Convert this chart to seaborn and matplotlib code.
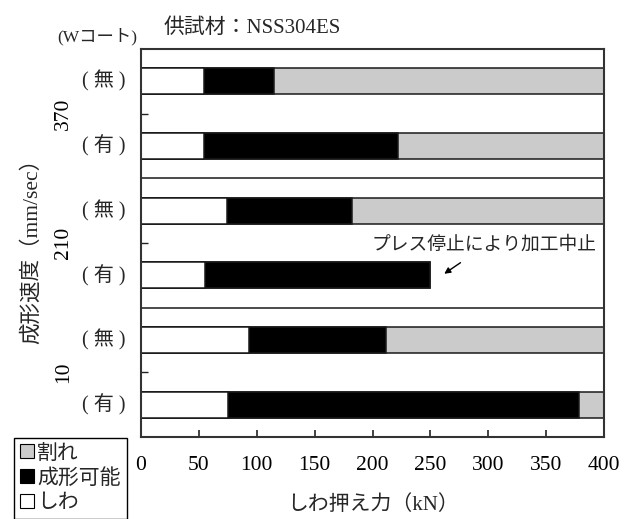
import matplotlib
matplotlib.use("Agg")
import matplotlib.pyplot as plt
from matplotlib.patches import Patch
import numpy as np
import pandas as pd
import seaborn as sns

# Forming speed groups (mm/sec) and W-coat condition
speeds = ["370", "210", "10"]
coats = ["無", "有"]

# Blank holding force ranges per bar (kN), in order 370無, 370有, 210無, 210有, 10無, 10有
wrinkle_len = [54, 54, 74, 55, 93, 75]        # しわ
formable_len = [61, 168, 108, 195, 119, 303]  # 成形可能
crack_len = [285, 178, 218, 0, 188, 22]       # 割れ

x_ticks = [0, 50, 100, 150, 200, 250, 300, 350, 400]

legend_labels = ["割れ", "成形可能", "しわ"]
colors = {"割れ": "#cbcbcb", "成形可能": "#000000", "しわ": "#ffffff"}

sns.set_style("ticks")
plt.rcParams["font.family"] = ["Liberation Serif", "Noto Sans CJK JP"]
plt.rcParams["axes.unicode_minus"] = False

wrinkle_end = np.array(wrinkle_len)
formable_end = wrinkle_end + np.array(formable_len)
crack_end = formable_end + np.array(crack_len)

df = pd.DataFrame({
    "speed": [s for s in speeds for _ in coats],
    "coat": coats * len(speeds),
    "しわ": wrinkle_end,
    "成形可能": formable_end,
    "割れ": crack_end,
})

fig = plt.figure(figsize=(6.3, 5.19), dpi=100)
ax = fig.add_axes([141 / 630, 1 - 437 / 519, (604 - 141) / 630, (437 - 49) / 519])

edge = "#1a1a1a"
# Draw the cumulative ranges from the outermost one inward so each layer covers the previous
for layer in ["割れ", "成形可能", "しわ"]:
    sns.barplot(
        data=df, x=layer, y="speed", hue="coat",
        order=speeds, hue_order=coats,
        palette={c: colors[layer] for c in coats},
        width=1.0, gap=0.6, dodge=True, saturation=1,
        edgecolor=edge, linewidth=1.1, errorbar=None, legend=False, ax=ax,
    )

ax.set_xlim(0, 400)
ax.set_ylim(len(speeds) - 0.5, -0.5)
ax.set_xticks(x_ticks)
ax.set_xticklabels([str(t) for t in x_ticks], fontsize=15.5)
ax.set_yticks(range(len(speeds)))
ax.set_yticklabels(speeds, fontsize=15.5, rotation=90, va="center")
ax.tick_params(axis="x", direction="in", length=5, width=1.2, pad=14, colors="#222222")
ax.tick_params(axis="y", direction="in", length=5, width=1.0, pad=49, colors="#222222")
for lab in ax.get_xticklabels() + ax.get_yticklabels():
    lab.set_color("black")

for sp in ax.spines.values():
    sp.set_visible(True)
    sp.set_color("#333333")
    sp.set_linewidth(1.5)

# Separators between speed groups
for b in np.arange(0.5, len(speeds) - 0.5, 1.0):
    ax.axhline(b, color=edge, lw=1.1, zorder=0.5)

# Coating labels beside each bar (innermost layer containers, one per coat)
for coat, cont in zip(coats, ax.containers[-2:]):
    for patch in cont.patches:
        yc = patch.get_y() + patch.get_height() / 2
        ax.annotate(f"( {coat} )", xy=(0, yc), xycoords=("axes fraction", "data"),
                    xytext=(-11, 0), textcoords="offset points",
                    ha="right", va="center", fontsize=14.5)

ax.annotate("(Wコート)", xy=(0, 1), xycoords="axes fraction",
            xytext=(-3, 9), textcoords="offset points",
            ha="right", va="center", fontsize=12.5)

# Note on the bar where the press stopped
stop_idx = speeds.index("210") * len(coats) + coats.index("有")
stop_bar = ax.containers[-1].patches[speeds.index("210")]
y_stop = stop_bar.get_y() + stop_bar.get_height() / 2
x_stop = formable_end[stop_idx]
ax.annotate("", xy=(x_stop + 10, y_stop), xytext=(x_stop + 28, y_stop - 0.11),
            arrowprops=dict(arrowstyle="-|>", color="black", lw=1.0, mutation_scale=9))
ax.text(x_stop + 46, y_stop - 0.235, "プレス停止により加工中止",
        ha="center", va="center", fontsize=13.5)

ax.set_xlabel("しわ押え力（kN）", fontsize=15, labelpad=14)
ax.set_ylabel("")
fig.text(32 / 630, 1 - 246 / 519, "成形速度（mm/sec）", rotation=90,
         ha="center", va="center", fontsize=15.5)
fig.text(252 / 630, 1 - 28 / 519, "供試材：NSS304ES", ha="center", va="center", fontsize=15)

handles = [Patch(facecolor=colors[k], edgecolor="black", lw=0.8) for k in legend_labels]
leg = fig.legend(handles, legend_labels, loc="upper left",
                 bbox_to_anchor=(14 / 630, 1 - 438 / 519), fontsize=15,
                 handlelength=0.65, handleheight=0.65, handletextpad=0.15,
                 borderpad=0.3, labelspacing=0.25, borderaxespad=0,
                 fancybox=False, framealpha=1)
leg.get_frame().set_edgecolor("black")
leg.get_frame().set_linewidth(1.0)

fig.savefig("out.png", dpi=100)
